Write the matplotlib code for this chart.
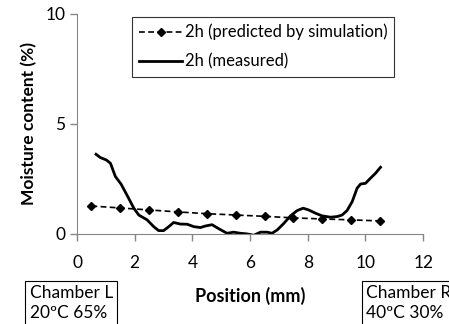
import matplotlib.pyplot as plt

plt.rcParams['font.family'] = ['Lato', 'DejaVu Sans']

# predicted by simulation
sim_x = [0.5, 1.5, 2.5, 3.5, 4.5, 5.5, 6.5, 7.5, 8.5, 9.5, 10.5]
sim_y = [1.27, 1.18, 1.09, 1.0, 0.92, 0.86, 0.80, 0.73, 0.68, 0.64, 0.59]

# measured
meas_x = [0.66, 0.81, 1.02, 1.16, 1.33, 1.53, 1.73, 1.97, 2.14, 2.43, 2.66, 2.83,
          3.0, 3.18, 3.35, 3.58, 3.82, 4.05, 4.28, 4.45, 4.68, 4.91, 5.2, 5.43,
          5.66, 5.9, 6.13, 6.36, 6.59, 6.76, 6.94, 7.17, 7.4, 7.63, 7.84, 8.03,
          8.27, 8.5, 8.79, 9.02, 9.19, 9.36, 9.54, 9.71, 9.83, 10.0, 10.17,
          10.35, 10.52]
meas_y = [3.62, 3.47, 3.36, 3.21, 2.61, 2.26, 1.77, 1.17, 0.86, 0.64, 0.33, 0.15,
          0.15, 0.33, 0.52, 0.45, 0.44, 0.33, 0.29, 0.36, 0.42, 0.24, 0.03, 0.08,
          0.03, 0.0, -0.06, 0.08, 0.08, 0.03, 0.18, 0.48, 0.82, 1.06, 1.17, 1.09,
          0.94, 0.82, 0.76, 0.79, 0.86, 1.06, 1.47, 2.08, 2.27, 2.3, 2.53, 2.76,
          3.03]

x_ticks = [0, 2, 4, 6, 8, 10, 12]
y_ticks = [0, 5, 10]

fig = plt.figure(figsize=(4.49, 3.24), dpi=100)
ax = fig.add_axes([0.1715, 0.278, 0.771, 0.679])

ax.plot(sim_x, sim_y, color='black', linestyle='--', dashes=(3.5, 2), lw=1.2,
        marker='D', markersize=4, label='2h (predicted by simulation)')
ax.plot(meas_x, meas_y, color='black', lw=2, label='2h (measured)')

ax.set_xlim(0, 12)
ax.set_ylim(0, 10)
ax.set_xticks(x_ticks)
ax.set_yticks(y_ticks)
ax.tick_params(axis='both', labelsize=12.5, length=5, color='#868686', width=1)
ax.tick_params(axis='x', pad=10)
for s in ['top', 'right']:
    ax.spines[s].set_visible(False)
for s in ['left', 'bottom']:
    ax.spines[s].set_color('#868686')

ax.set_ylabel('Moisture content (%)', fontsize=12.5, fontweight='bold', labelpad=6)
fig.text(0.557, 0.087, 'Position (mm)', fontsize=13, fontweight='bold',
         ha='center', va='center')

leg = ax.legend(loc='upper left', bbox_to_anchor=(0.16, 0.985), fontsize=12,
                frameon=True, fancybox=False, edgecolor='black', borderpad=0.4,
                handlelength=2.6, handletextpad=0.15, labelspacing=0.8,
                borderaxespad=0)
leg.get_frame().set_linewidth(0.8)

box = dict(boxstyle='square,pad=0.25', fc='white', ec='black', lw=0.8)
fig.text(0.066, 0.065, 'Chamber L\n20\u00baC 65%', fontsize=12.5, ha='left',
         va='center', bbox=box, linespacing=1.25)
fig.text(0.815, 0.065, 'Chamber R\n40\u00baC 30%', fontsize=12.5, ha='left',
         va='center', bbox=box, linespacing=1.25)

fig.savefig('out.png', dpi=100)
